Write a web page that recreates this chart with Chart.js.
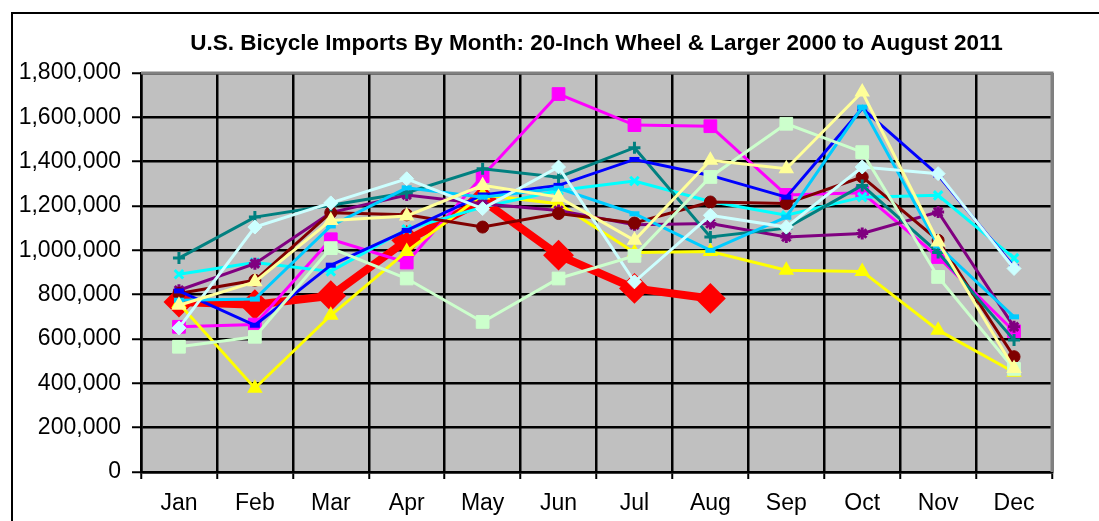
<!DOCTYPE html>
<html>
<head>
<meta charset="utf-8">
<script src="https://cdn.jsdelivr.net/npm/chart.js@4/dist/chart.umd.min.js"></script>
<style>
  html, body { margin: 0; padding: 0; background: #ffffff; overflow: hidden; }
  #frame { position: absolute; left: 11px; top: 12px; width: 1300px; height: 700px; border: 2px solid #000; box-sizing: border-box; }
  #wrap { position: absolute; left: 0; top: 0; width: 1099px; height: 521px; }
</style>
</head>
<body>
<div id="frame"></div>
<div id="wrap"><canvas id="c" width="1099" height="521"></canvas></div>
<script>
const months = ['Jan','Feb','Mar','Apr','May','Jun','Jul','Aug','Sep','Oct','Nov','Dec'];
const chartTitle = 'U.S. Bicycle Imports By Month: 20-Inch Wheel & Larger 2000 to August 2011';
const yTicks = [0, 200000, 400000, 600000, 800000, 1000000, 1200000, 1400000, 1600000, 1800000];

const y2000 = [752000, 858000, 1135000, 1155000, 1293000, 1240000, 1045000, 1406000, 1368000, 1714000, 1038000, 467000];
const y2001 = [565000, 610000, 1010000, 873000, 677000, 873000, 975000, 1331000, 1571000, 1443000, 880000, 465000];
const y2002 = [650000, 1105000, 1214000, 1323000, 1188000, 1376000, 858000, 1158000, 1105000, 1376000, 1346000, 918000];
const y2003 = [775000, 780000, 1110000, 1282000, 1240000, 1280000, 1165000, 1000000, 1150000, 1646000, 1020000, 700000];
const y2004 = [817000, 662000, 933000, 1090000, 1250000, 1293000, 1410000, 1338000, 1240000, 1640000, 1340000, 925000];
const y2005 = [965000, 1150000, 1203000, 1260000, 1368000, 1330000, 1463000, 1060000, 1100000, 1293000, 990000, 595000];
const y2006 = [805000, 865000, 1170000, 1160000, 1105000, 1166000, 1123000, 1218000, 1211000, 1331000, 1045000, 520000];
const y2007 = [820000, 940000, 1170000, 1250000, 1210000, 1180000, 1115000, 1121000, 1060000, 1076000, 1173000, 655000];
const y2008 = [892000, 945000, 905000, 1095000, 1195000, 1270000, 1313000, 1220000, 1158000, 1240000, 1248000, 965000];
const y2009 = [760000, 378000, 707000, 995000, 1250000, 1210000, 990000, 995000, 910000, 905000, 640000, 450000];
const y2010 = [655000, 665000, 1050000, 945000, 1335000, 1705000, 1565000, 1560000, 1250000, 1260000, 970000, 635000];
const y2011 = [767000, 755000, 795000, 1045000, 1225000, 978000, 828000, 783000];

const FONT = "'Liberation Sans', Arial, sans-serif";

function ds(label, data, color, style, radius, pbw, lw) {
  return {
    label: label, data: data,
    borderColor: color, backgroundColor: color,
    pointBackgroundColor: color, pointBorderColor: color,
    pointStyle: style, pointRadius: radius, pointHoverRadius: radius,
    pointBorderWidth: pbw, borderWidth: lw,
    tension: 0, fill: false
  };
}

// first dataset is drawn on top (matches Excel's later-series-on-top)
const datasets = [
  ds('2000', y2000, '#FFFF99', 'triangle', 7, 2, 3),
  ds('2001', y2001, '#CCFFCC', 'rect', 9, 1, 3),
  ds('2002', y2002, '#CCFFFF', 'rectRot', 7, 1, 3),
  ds('2003', y2003, '#00CCFF', 'line', 5, 5, 3),
  ds('2004', y2004, '#0000FF', 'line', 5, 5, 3),
  ds('2005', y2005, '#008080', 'cross', 6, 3, 3),
  ds('2006', y2006, '#800000', 'circle', 6, 1, 3),
  ds('2007', y2007, '#800080', 'star', 6, 3, 3),
  ds('2008', y2008, '#00FFFF', 'crossRot', 6, 3, 3),
  ds('2009', y2009, '#FFFF00', 'triangle', 7, 2, 3),
  ds('2010', y2010, '#FF00FF', 'rect', 9, 1, 3),
  ds('2011', y2011, '#FF0000', 'rectRot', 14, 2, 8)
];

const plotDecor = {
  id: 'plotDecor',
  beforeDraw(chart) {
    const a = chart.chartArea, ctx = chart.ctx;
    ctx.save();
    ctx.fillStyle = '#C0C0C0';
    ctx.fillRect(a.left, a.top, a.right - a.left, a.bottom - a.top);
    ctx.restore();
  },
  beforeDatasetsDraw(chart) {
    const a = chart.chartArea, ctx = chart.ctx;
    ctx.save();
    ctx.strokeStyle = '#808080';
    ctx.lineWidth = 3;
    ctx.beginPath();
    ctx.moveTo(a.left, a.top);
    ctx.lineTo(a.right, a.top);
    ctx.lineTo(a.right, a.bottom);
    ctx.stroke();
    ctx.restore();
  }
};

new Chart(document.getElementById('c'), {
  type: 'line',
  data: { labels: months, datasets: datasets },
  plugins: [plotDecor],
  options: {
    responsive: false,
    animation: false,
    events: [],
    layout: { padding: { left: 0, right: 47, top: 0, bottom: 0 } },
    plugins: {
      legend: { display: false },
      tooltip: { enabled: false },
      title: {
        display: true,
        text: chartTitle,
        fullSize: false,
        color: '#000',
        font: { family: FONT, size: 22.5, weight: 'bold' },
        padding: { top: 30, bottom: 16 }
      }
    },
    scales: {
      x: {
        type: 'category',
        offset: true,
        grid: { display: true, offset: true, color: '#000', lineWidth: 2.5, tickLength: 7, drawTicks: true, tickColor: '#000', tickWidth: 2 },
        border: { display: true, color: '#000', width: 2.5 },
        ticks: { color: '#000', font: { family: FONT, size: 23 }, padding: 11, maxRotation: 0, autoSkip: false },
        afterFit(s) { s.height = 49; }
      },
      y: {
        min: 0, max: 1800000,
        afterBuildTicks(s) { s.ticks = yTicks.map(v => ({ value: v })); },
        grid: { color: '#000', lineWidth: 2.5, tickLength: 9, drawTicks: true, tickColor: '#000', tickWidth: 2 },
        border: { display: true, color: '#000', width: 2.5 },
        ticks: {
          color: '#000', font: { family: FONT, size: 23 }, padding: 11,
          callback: v => Number(v).toLocaleString('en-US')
        },
        afterFit(s) { s.width = 141; }
      }
    }
  }
});
</script>
</body>
</html>
